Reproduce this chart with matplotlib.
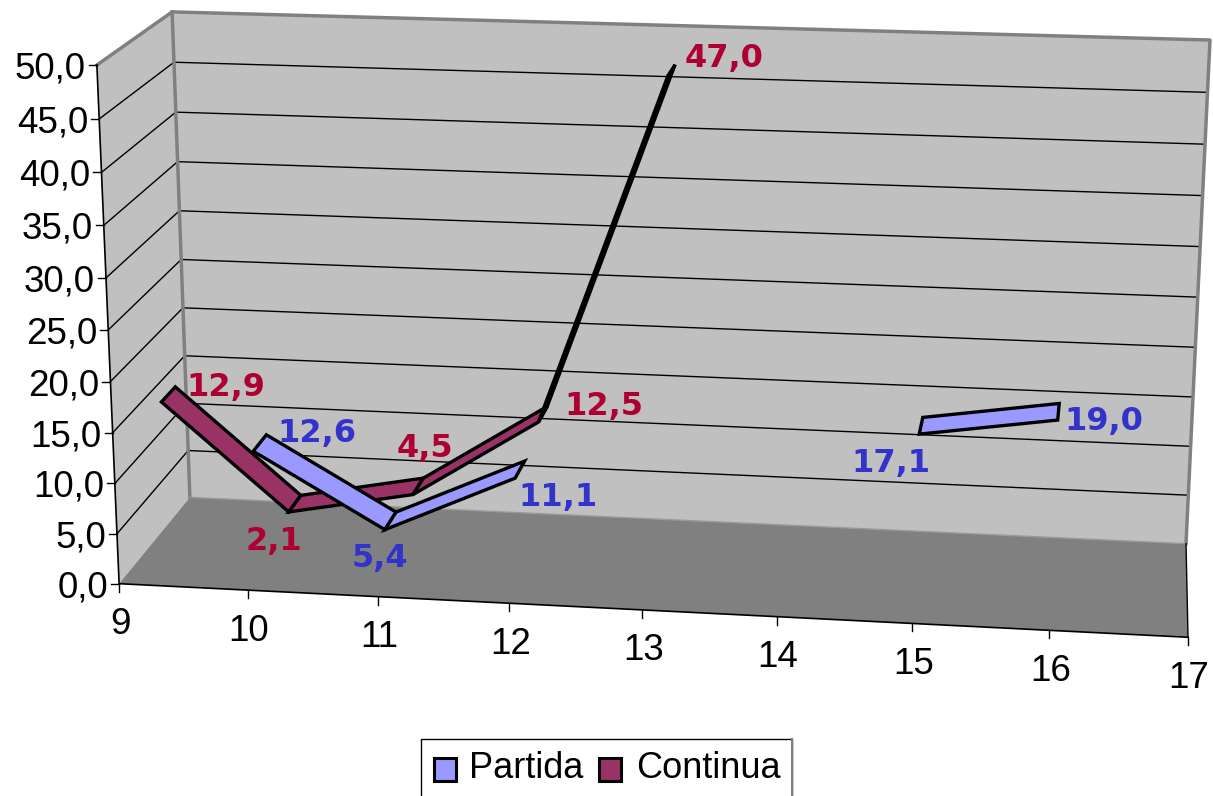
import numpy as np
import matplotlib
matplotlib.use("Agg")
import matplotlib.pyplot as plt
from matplotlib.patches import Polygon, Rectangle

categories = [9, 10, 11, 12, 13, 14, 15, 16, 17]
value_ticks = [0, 5, 10, 15, 20, 25, 30, 35, 40, 45, 50]
partida = [None, 12.6, 5.4, 11.1, None, None, 17.1, 19.0, None]
continua = [12.9, 2.1, 4.5, 12.5, 47.0, None, None, None, None]

# label centre x, baseline y in pixels
partida_labels = {10: (317, 442), 11: (380, 567), 12: (558, 506), 15: (891, 472), 16: (1104, 430)}
continua_labels = {9: (226, 396), 10: (274, 550), 11: (425, 457), 12: (604, 415), 13: (724, 67)}

W, H = 1213, 796
C_PARTIDA = "#9999FF"
C_CONTINUA = "#993366"
C_TXT_PARTIDA = "#3333CC"
C_TXT_CONTINUA = "#AE0030"

# camera of the 3d box, fitted on the box corners seen in the picture
# (category, value, depth) -> pixel
corners = [
    (9, 0, 0, 119, 584), (9, 50, 0, 97, 65), (9, 50, 1, 172, 12), (9, 0, 1, 190, 497),
    (17, 0, 0, 1188, 637), (17, 0, 1, 1186, 544), (17, 50, 1, 1210, 40),
]
rows = []
for cx, cv, cd, px, py in corners:
    rows.append([cx, cv, cd, 1, 0, 0, 0, 0, -px * cx, -px * cv, -px * cd, px])
    rows.append([0, 0, 0, 0, cx, cv, cd, 1, -py * cx, -py * cv, -py * cd, py])
rows = np.array(rows, dtype=float)
sol = np.linalg.lstsq(rows[:, :11], rows[:, 11], rcond=None)[0]
cam = np.append(sol, 1.0).reshape(3, 4)


def project(x, v, d):
    p = cam @ np.array([x, v, d, 1.0])
    return p[0] / p[2], p[1] / p[2]


fig = plt.figure(figsize=(W / 100, H / 100), dpi=100)
ax = fig.add_axes([0, 0, 1, 1])
ax.set_xlim(0, W)
ax.set_ylim(H, 0)
ax.axis("off")

xa, xb = categories[0], categories[-1]
vtop = value_ticks[-1]

# walls and floor
ax.add_patch(Polygon([project(xa, 0, 0), project(xa, vtop, 0), project(xa, vtop, 1), project(xa, 0, 1)],
                     fc="#C0C0C0", ec="none", zorder=1))
ax.add_patch(Polygon([project(xa, 0, 1), project(xa, vtop, 1), project(xb, vtop, 1), project(xb, 0, 1)],
                     fc="#C0C0C0", ec="none", zorder=1))
ax.add_patch(Polygon([project(xa, 0, 0), project(xa, 0, 1), project(xb, 0, 1), project(xb, 0, 0)],
                     fc="#808080", ec="none", zorder=2))

# gridlines
for v in value_ticks[1:-1]:
    pts = [project(xa, v, 0), project(xa, v, 1), project(xb, v, 1)]
    ax.plot(*zip(*pts), color="black", lw=1.0, zorder=2)

# gray edges
edge = [project(xa, vtop, 0), project(xa, vtop, 1), project(xb, vtop, 1), project(xb, 0, 1)]
ax.plot(*zip(*edge), color="#808080", lw=2.5, zorder=3)
ax.plot(*zip(project(xa, vtop, 1), project(xa, 0, 1)), color="#808080", lw=2.5, zorder=3)
ax.plot(*zip(project(xa, 0, 1), project(xb, 0, 1)), color="#9a9a9a", lw=1.0, zorder=3)

# axis lines, ticks, tick labels
ax.plot(*zip(project(xa, 0, 0), project(xa, vtop, 0)), color="black", lw=1.2, zorder=4)
ax.plot(*zip(project(xa, 0, 0), project(xb, 0, 0)), color="black", lw=1.2, zorder=4)
ax.plot(*zip(project(xb, 0, 0), project(xb, 0, 1)), color="black", lw=1.0, zorder=4)

for v in value_ticks:
    px, py = project(xa, v, 0)
    ax.plot([px - 8, px], [py, py], color="black", lw=1.0, zorder=4)
    ax.text(px - 11, py + 4, f"{v:.1f}".replace(".", ","), ha="right", va="center",
            family="Liberation Sans", fontsize=26.5, color="black", zorder=6)

for c in categories:
    px, py = project(c, 0, 0)
    ax.plot([px, px], [py, py + 8], color="black", lw=1.0, zorder=4)
    ax.text(px + 1, py + 41, str(c), ha="center", va="center",
            family="Liberation Sans", fontsize=26.5, color="black", zorder=6)


def ribbon(values, d0, d1, color, zorder):
    for i in range(len(categories) - 1):
        if values[i] is None or values[i + 1] is None:
            continue
        quad = [project(categories[i], values[i], d0), project(categories[i + 1], values[i + 1], d0),
                project(categories[i + 1], values[i + 1], d1), project(categories[i], values[i], d1)]
        ax.add_patch(Polygon(quad, fc=color, ec="black", lw=2.4, joinstyle="miter", zorder=zorder))


ribbon(continua, 0.65, 0.85, C_CONTINUA, 5)
ribbon(partida, 0.14, 0.34, C_PARTIDA, 5.5)

for c, pos in continua_labels.items():
    val = continua[categories.index(c)]
    ax.text(pos[0], pos[1], f"{val:.1f}".replace(".", ","), ha="center", va="baseline",
            family="DejaVu Sans", weight="bold", fontsize=23, color=C_TXT_CONTINUA, zorder=7)
for c, pos in partida_labels.items():
    val = partida[categories.index(c)]
    ax.text(pos[0], pos[1], f"{val:.1f}".replace(".", ","), ha="center", va="baseline",
            family="DejaVu Sans", weight="bold", fontsize=23, color=C_TXT_PARTIDA, zorder=7)

# legend, the bottom of the box runs off the canvas
ax.add_patch(Rectangle((420.5, 738.5), 371, 70, fc="white", ec="black", lw=1.0, zorder=8))
ax.plot([792, 792], [739, 796], color="#808080", lw=1.5, zorder=8)
ax.add_patch(Rectangle((433.5, 758), 22, 23, fc=C_PARTIDA, ec="black", lw=2.2, zorder=9))
ax.add_patch(Rectangle((598.5, 758), 22, 23, fc=C_CONTINUA, ec="black", lw=2.2, zorder=9))
ax.text(469, 769, "Partida", ha="left", va="center", family="Liberation Sans", fontsize=26, zorder=9)
ax.text(636, 769, "Continua", ha="left", va="center", family="Liberation Sans", fontsize=26, zorder=9)

fig.savefig("out.png", dpi=100)
